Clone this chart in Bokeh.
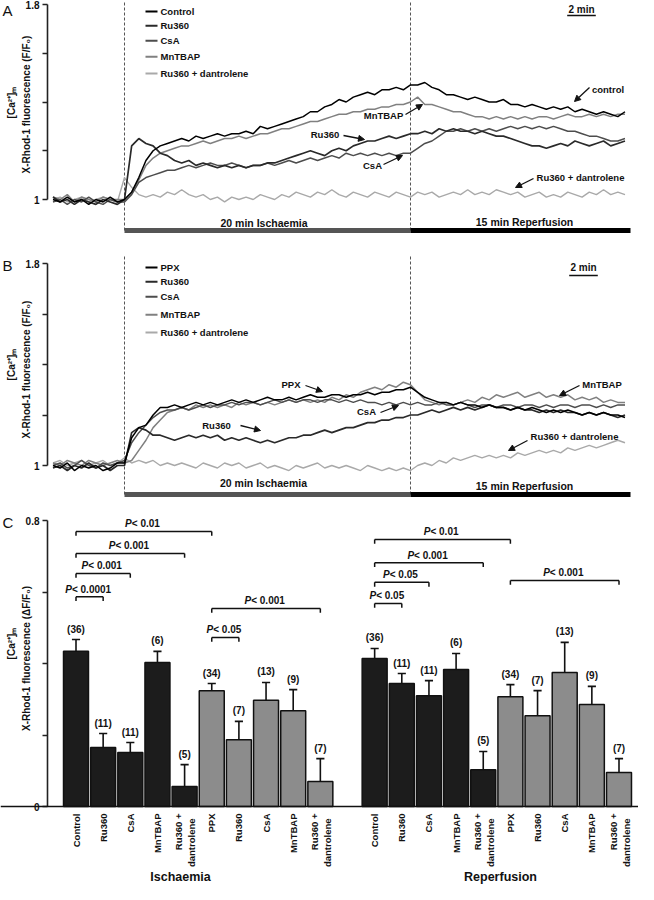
import math
from bokeh.plotting import figure
from bokeh.layouts import column
from bokeh.models import Range1d, FixedTicker, Label, Arrow, NormalHead, Span
from bokeh.core.properties import value
from bokeh.embed import file_html
from bokeh.resources import INLINE

# ---------------------------------------------------------------- data
time_min = [-5.0, -4.5, -4.0, -3.5, -3.0, -2.5, -2.0, -1.5, -1.0, -0.5,
            0.0, 0.5, 1.0, 1.5, 2.0, 2.5, 3.0, 3.5, 4.0, 4.5,
            5.0, 5.5, 6.0, 6.5, 7.0, 7.5, 8.0, 8.5, 9.0, 9.5,
            10.0, 10.5, 11.0, 11.5, 12.0, 12.5, 13.0, 13.5, 14.0, 14.5,
            15.0, 15.5, 16.0, 16.5, 17.0, 17.5, 18.0, 18.5, 19.0, 19.5,
            20.0, 20.5, 21.0, 21.5, 22.0, 22.5, 23.0, 23.5, 24.0, 24.5,
            25.0, 25.5, 26.0, 26.5, 27.0, 27.5, 28.0, 28.5, 29.0, 29.5,
            30.0, 30.5, 31.0, 31.5, 32.0, 32.5, 33.0, 33.5, 34.0, 34.5,
            35.0]

legend_A = ["Control", "Ru360", "CsA", "MnTBAP", "Ru360 + dantrolene"]
legend_B = ["PPX", "Ru360", "CsA", "MnTBAP", "Ru360 + dantrolene"]

A_control = [1.00, 0.99, 1.01, 0.99, 1.00, 0.98, 1.00, 0.99, 1.01, 0.99,
             1.00, 1.03, 1.09, 1.16, 1.20, 1.22, 1.23, 1.24, 1.25, 1.24,
             1.26, 1.25, 1.26, 1.27, 1.26, 1.27, 1.27, 1.28, 1.27, 1.30,
             1.29, 1.30, 1.31, 1.32, 1.33, 1.34, 1.36, 1.36, 1.38, 1.39,
             1.41, 1.40, 1.42, 1.43, 1.44, 1.43, 1.45, 1.45, 1.46, 1.45,
             1.47, 1.47, 1.48, 1.46, 1.45, 1.43, 1.43, 1.42, 1.41, 1.42,
             1.41, 1.40, 1.40, 1.41, 1.39, 1.39, 1.38, 1.39, 1.38, 1.37,
             1.38, 1.37, 1.38, 1.36, 1.37, 1.36, 1.35, 1.36, 1.35, 1.34,
             1.36]
A_ru360 = [1.01, 0.99, 1.00, 0.98, 1.00, 0.99, 0.98, 1.00, 0.99, 0.98,
           1.00, 1.22, 1.25, 1.23, 1.22, 1.19, 1.18, 1.16, 1.15, 1.16,
           1.14, 1.15, 1.14, 1.13, 1.14, 1.13, 1.14, 1.13, 1.14, 1.14,
           1.15, 1.15, 1.16, 1.17, 1.18, 1.19, 1.20, 1.19, 1.18, 1.20,
           1.21, 1.20, 1.22, 1.23, 1.24, 1.24, 1.25, 1.26, 1.25, 1.26,
           1.27, 1.27, 1.28, 1.27, 1.29, 1.28, 1.29, 1.28, 1.28, 1.27,
           1.28, 1.27, 1.26, 1.26, 1.25, 1.24, 1.23, 1.22, 1.22, 1.21,
           1.22, 1.23, 1.22, 1.24, 1.23, 1.22, 1.23, 1.24, 1.22, 1.23,
           1.24]
A_csa = [0.99, 1.00, 0.98, 1.00, 0.99, 1.01, 0.99, 0.98, 1.00, 0.99,
         0.99, 1.02, 1.07, 1.09, 1.10, 1.11, 1.12, 1.12, 1.13, 1.14,
         1.13, 1.14, 1.15, 1.14, 1.14, 1.15, 1.14, 1.13, 1.14, 1.14,
         1.15, 1.14, 1.15, 1.16, 1.15, 1.16, 1.17, 1.16, 1.17, 1.18,
         1.17, 1.19, 1.18, 1.19, 1.18, 1.19, 1.18, 1.19, 1.18, 1.19,
         1.19, 1.21, 1.23, 1.24, 1.26, 1.28, 1.28, 1.29, 1.28, 1.29,
         1.28, 1.29, 1.28, 1.29, 1.30, 1.29, 1.30, 1.29, 1.30, 1.29,
         1.30, 1.29, 1.28, 1.28, 1.27, 1.26, 1.26, 1.25, 1.24, 1.24,
         1.25]
A_mntbap = [1.01, 1.00, 1.02, 0.99, 1.01, 1.00, 0.99, 1.01, 1.00, 1.00,
            1.00, 1.03, 1.08, 1.14, 1.17, 1.19, 1.20, 1.21, 1.22, 1.22,
            1.23, 1.24, 1.23, 1.24, 1.25, 1.25, 1.26, 1.25, 1.26, 1.27,
            1.27, 1.28, 1.29, 1.29, 1.30, 1.31, 1.32, 1.32, 1.33, 1.34,
            1.35, 1.35, 1.36, 1.36, 1.37, 1.37, 1.38, 1.38, 1.39, 1.39,
            1.40, 1.42, 1.39, 1.39, 1.38, 1.37, 1.36, 1.36, 1.35, 1.34,
            1.34, 1.33, 1.34, 1.33, 1.34, 1.33, 1.34, 1.33, 1.34, 1.34,
            1.33, 1.34, 1.35, 1.34, 1.34, 1.35, 1.34, 1.35, 1.34, 1.35,
            1.35]
A_ru360_dantrolene = [1.00, 1.01, 0.99, 1.00, 1.01, 0.99, 1.00, 1.01, 1.00, 0.99,
                      1.09, 1.05, 1.02, 1.01, 1.02, 1.01, 1.03, 1.02, 1.04, 1.02,
                      1.01, 1.02, 1.00, 1.01, 0.99, 1.01, 1.00, 1.01, 1.00, 1.02,
                      1.01, 1.00, 1.02, 1.01, 1.03, 1.02, 1.01, 1.03, 1.02, 1.04,
                      1.02, 1.01, 1.03, 1.02, 1.01, 1.03, 1.02, 1.01, 1.03, 1.02,
                      1.01, 1.03, 1.02, 1.03, 1.01, 1.02, 1.03, 1.02, 1.04, 1.02,
                      1.03, 1.02, 1.04, 1.03, 1.02, 1.03, 1.01, 1.02, 1.03, 1.01,
                      1.02, 1.01, 1.03, 1.02, 1.01, 1.03, 1.02, 1.04, 1.02, 1.03,
                      1.02]

B_ppx = [1.00, 0.99, 1.01, 0.98, 1.00, 0.99, 1.00, 0.98, 0.99, 1.01,
         1.01, 1.11, 1.15, 1.16, 1.20, 1.23, 1.23, 1.24, 1.23, 1.24,
         1.25, 1.24, 1.25, 1.24, 1.25, 1.26, 1.25, 1.26, 1.25, 1.26,
         1.27, 1.26, 1.26, 1.27, 1.26, 1.27, 1.28, 1.27, 1.27, 1.28,
         1.28, 1.27, 1.28, 1.28, 1.29, 1.28, 1.29, 1.29, 1.30, 1.30,
         1.31, 1.29, 1.27, 1.26, 1.25, 1.25, 1.24, 1.25, 1.24, 1.24,
         1.23, 1.24, 1.23, 1.23, 1.22, 1.23, 1.22, 1.23, 1.22, 1.21,
         1.22, 1.21, 1.22, 1.21, 1.20, 1.21, 1.20, 1.21, 1.20, 1.20,
         1.19]
B_ru360 = [0.99, 1.00, 0.98, 1.00, 0.99, 1.01, 0.99, 1.00, 0.98, 1.00,
           1.00, 1.13, 1.15, 1.14, 1.12, 1.12, 1.11, 1.10, 1.11, 1.12,
           1.11, 1.12, 1.11, 1.12, 1.10, 1.11, 1.10, 1.11, 1.10, 1.09,
           1.10, 1.09, 1.10, 1.11, 1.11, 1.12, 1.12, 1.13, 1.14, 1.13,
           1.14, 1.15, 1.15, 1.16, 1.17, 1.17, 1.18, 1.18, 1.19, 1.19,
           1.20, 1.20, 1.21, 1.22, 1.21, 1.22, 1.23, 1.22, 1.23, 1.22,
           1.23, 1.24, 1.23, 1.23, 1.22, 1.23, 1.22, 1.22, 1.21, 1.22,
           1.21, 1.22, 1.21, 1.21, 1.20, 1.21, 1.20, 1.21, 1.20, 1.19,
           1.20]
B_csa = [1.00, 1.01, 0.99, 1.00, 1.02, 1.00, 0.99, 1.01, 1.00, 1.01,
         1.02, 1.09, 1.13, 1.16, 1.19, 1.21, 1.22, 1.22, 1.23, 1.22,
         1.23, 1.24, 1.23, 1.24, 1.24, 1.25, 1.24, 1.25, 1.25, 1.24,
         1.25, 1.26, 1.25, 1.26, 1.25, 1.26, 1.26, 1.25, 1.26, 1.26,
         1.25, 1.26, 1.25, 1.26, 1.25, 1.25, 1.24, 1.25, 1.24, 1.25,
         1.24, 1.25, 1.24, 1.24, 1.25, 1.24, 1.24, 1.25, 1.24, 1.23,
         1.24, 1.24, 1.23, 1.24, 1.24, 1.23, 1.24, 1.24, 1.23, 1.24,
         1.23, 1.24, 1.24, 1.23, 1.24, 1.24, 1.23, 1.24, 1.23, 1.24,
         1.24]
B_mntbap = [1.01, 1.00, 1.02, 1.01, 1.00, 1.02, 1.01, 1.00, 1.01, 1.02,
            1.01, 1.02, 1.06, 1.10, 1.15, 1.18, 1.21, 1.22, 1.23, 1.22,
            1.24, 1.23, 1.24, 1.23, 1.24, 1.23, 1.25, 1.24, 1.25, 1.24,
            1.25, 1.24, 1.25, 1.26, 1.25, 1.26, 1.25, 1.26, 1.25, 1.27,
            1.26, 1.28, 1.27, 1.29, 1.30, 1.31, 1.30, 1.32, 1.31, 1.33,
            1.32, 1.29, 1.26, 1.25, 1.24, 1.25, 1.24, 1.25, 1.26, 1.25,
            1.27, 1.26, 1.28, 1.27, 1.28, 1.29, 1.27, 1.28, 1.29, 1.27,
            1.28, 1.27, 1.28, 1.26, 1.27, 1.26, 1.27, 1.25, 1.26, 1.25,
            1.25]
B_ru360_dantrolene = [1.01, 1.02, 1.00, 1.01, 1.02, 1.00, 1.01, 1.02, 1.00, 1.01,
                      1.03, 1.01, 1.02, 1.01, 1.02, 1.00, 1.01, 1.00, 1.01, 1.00,
                      0.99, 1.01, 1.00, 0.99, 1.01, 1.00, 1.01, 0.99, 1.00, 1.01,
                      0.99, 1.00, 0.99, 0.98, 1.00, 0.99, 1.00, 1.01, 0.99, 1.00,
                      0.99, 1.00, 0.99, 0.98, 1.00, 0.99, 0.98, 0.99, 0.98, 0.99,
                      0.98, 1.00, 1.01, 1.00, 1.02, 1.01, 1.03, 1.02, 1.03, 1.04,
                      1.03, 1.04, 1.03, 1.04, 1.03, 1.05, 1.04, 1.05, 1.06, 1.05,
                      1.06, 1.05, 1.07, 1.06, 1.07, 1.08, 1.07, 1.08, 1.09, 1.10,
                      1.09]

bar_labels = ["Control", "Ru360", "CsA", "MnTBAP", "Ru360 +\ndantrolene",
              "PPX", "Ru360", "CsA", "MnTBAP", "Ru360 +\ndantrolene"]
group_names = ["Ischaemia", "Reperfusion"]
isch_mean = [0.434, 0.165, 0.151, 0.403, 0.056, 0.324, 0.187, 0.297, 0.268, 0.070]
isch_sem = [0.033, 0.039, 0.028, 0.031, 0.061, 0.020, 0.051, 0.050, 0.059, 0.064]
rep_mean = [0.414, 0.344, 0.310, 0.383, 0.103, 0.307, 0.254, 0.375, 0.285, 0.095]
rep_sem = [0.028, 0.028, 0.042, 0.045, 0.051, 0.034, 0.070, 0.084, 0.051, 0.039]
n_isch = ["(36)", "(11)", "(11)", "(6)", "(5)", "(34)", "(7)", "(13)", "(9)", "(7)"]
n_rep = ["(36)", "(11)", "(11)", "(6)", "(5)", "(34)", "(7)", "(13)", "(9)", "(7)"]
brackets_isch = [(0, 5, "< 0.01"), (0, 4, "< 0.001"), (0, 2, "< 0.001"),
                 (0, 1, "< 0.0001"), (5, 9, "< 0.001"), (5, 6, "< 0.05")]
brackets_rep = [(0, 5, "< 0.01"), (0, 4, "< 0.001"), (0, 2, "< 0.05"),
                (0, 1, "< 0.05"), (5, 9, "< 0.001")]

# ---------------------------------------------------------------- layout / style
FONT = "Liberation Sans"
INK = "#111111"
W = 638
PAGE_L, PAGE_R = 8, 646
TRACE_COLORS = ["#000000", "#2a2a2a", "#4d4d4d", "#808080", "#a9a9a9"]
TRACE_WIDTHS = [1.5, 1.7, 1.5, 1.5, 1.4]
DARK_BAR = "#1c1c1c"
GREY_BAR = "#8c8c8c"
# approximate advance widths (px) of Liberation Sans Bold at 10px
CHAR_W = {"P": 6.67, " ": 2.78, "<": 5.84, ".": 2.78}


def text_w(s, size=10.0):
    return sum(CHAR_W.get(c, 5.56) for c in s) * size / 10.0


def tx(px):
    return (px - 132.0) / 14.3


def add_label(p, x, y, text, size="10px", style="bold", align="center",
              baseline="middle", angle=0.0, color=INK):
    p.add_layout(Label(x=x, y=y, text=text, text_font=FONT, text_font_size=size,
                       text_font_style=style, text_align=align,
                       text_baseline=baseline, angle=angle, text_color=color))


def add_arrow(p, x0, y0, x1, y1):
    p.add_layout(Arrow(end=NormalHead(size=6, fill_color=INK, line_color=INK, line_width=1),
                       x_start=x0, y_start=y0, x_end=x1, y_end=y1,
                       line_width=1.3, line_color=INK))


def base_fig(height, xr, yr):
    p = figure(width=W, height=height, x_range=xr, y_range=yr, x_axis_type=None,
               output_backend="svg", toolbar_location=None,
               min_border_left=0, min_border_right=0,
               min_border_top=0, min_border_bottom=0)
    p.ygrid.visible = False
    p.outline_line_color = None
    p.background_fill_color = "white"
    return p


def style_yaxis(p, loc, ticks, overrides, bounds):
    ax = p.yaxis[0]
    ax.fixed_location = loc
    ax.ticker = FixedTicker(ticks=ticks)
    ax.major_label_overrides = overrides
    ax.bounds = bounds
    ax.axis_line_width = 1.6
    ax.axis_line_color = "#222222"
    ax.major_tick_line_width = 1.6
    ax.major_tick_line_color = "#222222"
    ax.major_tick_in = 0
    ax.major_tick_out = 5
    ax.minor_tick_line_color = None
    ax.major_label_text_font = FONT
    ax.major_label_text_font_size = "10px"
    ax.major_label_text_font_style = "bold"
    ax.major_label_text_color = INK
    ax.major_label_standoff = 3


def trace_panel(cfg, names, series):
    top, H = cfg["top"], cfg["height"]
    Y1, ppu = cfg["Y1"], cfg["ppu"]

    def v(py):
        return 1.0 + (Y1 - py) / ppu

    p = base_fig(H, Range1d(tx(PAGE_L), tx(PAGE_R)), Range1d(v(top + H), v(top)))
    style_yaxis(p, tx(55), [1.0, 1.2, 1.4, 1.6, 1.8],
                {1.0: "1", 1.2: "", 1.4: "", 1.6: "", 1.8: "1.8"}, (1.0, 1.8))

    bar = v(cfg["bar"])
    for t in (0, 20):
        p.segment(x0=t, x1=t, y0=bar, y1=v(cfg["dash_top"]), line_color="#555555",
                  line_dash="3 2", line_width=1)
    p.segment(x0=0, x1=20, y0=bar, y1=bar, line_color="#555555", line_width=5)
    p.segment(x0=20, x1=tx(638), y0=bar, y1=bar, line_color="#000000", line_width=5)
    add_label(p, tx(cfg["isch_txt"][0]), v(cfg["isch_txt"][1]), "20 min Ischaemia", size="10.5px")
    add_label(p, tx(cfg["rep_txt"][0]), v(cfg["rep_txt"][1]), "15 min Reperfusion", size="10.5px")

    for s, c, w in reversed(list(zip(series, TRACE_COLORS, TRACE_WIDTHS))):
        p.line(time_min, s, line_color=c, line_width=w)

    for i, (nm, c) in enumerate(zip(names, TRACE_COLORS)):
        y = v(cfg["legend_y"][i])
        p.segment(x0=tx(153), x1=tx(165), y0=y, y1=y, line_color=c, line_width=2)
        add_label(p, tx(168), y, nm, size="9.5px", align="left")

    sx, sy, sl = cfg["scale"]
    add_label(p, tx(sx), v(sy), "2 min", size="10px")
    p.segment(x0=tx(sx) - 1, x1=tx(sx) + 1, y0=v(sl), y1=v(sl), line_color=INK, line_width=1.5)

    for (txt, x, y, ax0, ay0, ax1, ay1) in cfg["ann"]:
        add_label(p, tx(x), v(y), txt, size="9.5px")
        add_arrow(p, tx(ax0), v(ay0), tx(ax1), v(ay1))

    ca_x, ca_y, xr_x, xr_y = cfg["ylab"]
    add_label(p, tx(ca_x), v(ca_y), "[Ca²⁺]ₘ", size="10px", angle=math.pi / 2)
    add_label(p, tx(xr_x), v(xr_y), "X-Rhod-1 fluorescence (F/F₀)", size="10px", angle=math.pi / 2)
    add_label(p, tx(10), v(cfg["letter_y"]), cfg["letter"], size="15px", style="normal", align="left")
    return p


cfgA = dict(top=8, height=254, Y1=207.0, ppu=243.75, bar=238, dash_top=8,
            isch_txt=(271.5, 230), rep_txt=(532, 229),
            legend_y=[19, 33.3, 48.3, 64.3, 81], scale=(589, 17, 23),
            ann=[("control", 615.5, 97, 597, 95, 582, 109),
                 ("MnTBAP", 391, 123, 413, 122, 430, 112),
                 ("Ru360", 332.5, 142, 351, 143, 372, 147),
                 ("CsA", 380, 173, 391, 172, 410, 163),
                 ("Ru360 + dantrolene", 588, 185, 541, 186, 523, 195)],
            ylab=(19, 110, 34, 112), letter="A", letter_y=18)
cfgB = dict(top=262, height=258, Y1=473.0, ppu=252.5, bar=502, dash_top=264,
            isch_txt=(271, 490), rep_txt=(532, 493),
            legend_y=[275, 289.3, 304.3, 322.3, 340], scale=(591, 275, 283),
            ann=[("PPX", 298.5, 392, 313, 393, 330, 399),
                 ("Ru360", 224, 433, 248, 433, 268, 438),
                 ("CsA", 374, 419, 388, 420, 406, 413),
                 ("MnTBAP", 609.5, 392, 587, 393, 567, 403),
                 ("Ru360 + dantrolene", 582, 444, 535, 448, 516, 458)],
            ylab=(19, 372, 34, 377), letter="B", letter_y=273)

pa = trace_panel(cfgA, legend_A,
                 [A_control, A_ru360, A_csa, A_mntbap, A_ru360_dantrolene])
pb = trace_panel(cfgB, legend_B,
                 [B_ppx, B_ru360, B_csa, B_mntbap, B_ru360_dantrolene])

# ---------------------------------------------------------------- panel C
PITCH = 27.15


def xc(px):
    return (px - 83.5) / PITCH


def vc(py):
    return (820.0 - py) / 357.5


C_TOP, C_H, C_SHIFT = 520, 372, 6   # everything drawn 6 px higher than in the reference
pc = base_fig(C_H, Range1d(xc(PAGE_L), xc(PAGE_R)),
              Range1d(vc(C_TOP + C_H + C_SHIFT), vc(C_TOP + C_SHIFT)))
style_yaxis(pc, xc(55), [0.0, 0.2, 0.4, 0.6, 0.8],
            {0.0: "0", 0.2: "", 0.4: "", 0.6: "", 0.8: "0.8"}, (0.0, 0.8))

GAP = 1  # one empty slot between the two groups
NB = len(bar_labels)
positions = list(range(NB)) + [i + NB + GAP for i in range(NB)]
means = isch_mean + rep_mean
sems = isch_sem + rep_sem
tops = [m + s for m, s in zip(means, sems)]
fills = ([DARK_BAR] * 5 + [GREY_BAR] * 5) * 2

pc.add_layout(Span(location=0, dimension="width", line_color=INK, line_width=1.6))
pc.vbar(x=positions, top=means, bottom=0, width=0.92, fill_color=fills,
        line_color=INK, line_width=1.5)
pc.segment(x0=positions, x1=positions, y0=means, y1=tops, line_color=INK, line_width=1.6)
pc.segment(x0=[q - 0.15 for q in positions], x1=[q + 0.15 for q in positions],
           y0=tops, y1=tops, line_color=INK, line_width=1.6)
pc.text(x=positions, y=[t + 0.014 for t in tops], text=n_isch + n_rep,
        text_align="center", text_baseline="bottom", text_font=value(FONT),
        text_font_size=value("10px"), text_font_style="bold", text_color=INK)

bracket_levels_isch = [0.769, 0.708, 0.652, 0.587, 0.554, 0.473]
bracket_levels_rep = [0.747, 0.682, 0.627, 0.568, 0.632]
TICK = 0.012
for base, brs, levels in ((0, brackets_isch, bracket_levels_isch),
                          (NB, brackets_rep, bracket_levels_rep)):
    for (i, j, txt), y in zip(brs, levels):
        x0, x1 = positions[base + i], positions[base + j]
        pc.segment(x0=[x0, x0, x1], x1=[x1, x0, x1], y0=[y, y, y], y1=[y, y - TICK, y - TICK],
                   line_color=INK, line_width=1.5)
        wp = text_w("P")
        wr = text_w(" " + txt)
        left = (x0 + x1) / 2 - (wp + wr) / 2 / PITCH
        add_label(pc, left, y + 0.006, "P", size="10px", style="bold italic",
                  align="left", baseline="bottom")
        add_label(pc, left + wp / PITCH, y + 0.006, " " + txt, size="10px", style="bold",
                  align="left", baseline="bottom")

# category labels under the bars
lab_x, lab_y, lab_t = [], [], []
for k, pos in enumerate(positions):
    lines = bar_labels[k % NB].split("\n")
    if len(lines) == 1:
        lab_x.append(pos)
        lab_y.append(vc(827))
        lab_t.append(lines[0])
    else:
        lab_x += [pos - 0.22, pos + 0.26]
        lab_y += [vc(827), vc(832)]
        lab_t += lines
pc.text(x=lab_x, y=lab_y, text=lab_t, angle=math.pi / 2, text_align="right",
        text_baseline="middle", text_font=value(FONT), text_font_size=value("9.5px"),
        text_font_style="bold", text_color=INK)

add_label(pc, xc(188), vc(890), group_names[0], size="12.5px")
add_label(pc, xc(508), vc(890), group_names[1], size="12.5px")
add_label(pc, xc(19), vc(657), "[Ca²⁺]ₘ", size="10px", angle=math.pi / 2)
add_label(pc, xc(34), vc(672), "X-Rhod-1 fluorescence (ΔF/F₀)", size="10px", angle=math.pi / 2)
add_label(pc, xc(10), vc(536), "C", size="15px", style="normal", align="left")

layout = column(pa, pb, pc, spacing=0)
open("out.html", "w").write(file_html(layout, INLINE, title="Figure"))
